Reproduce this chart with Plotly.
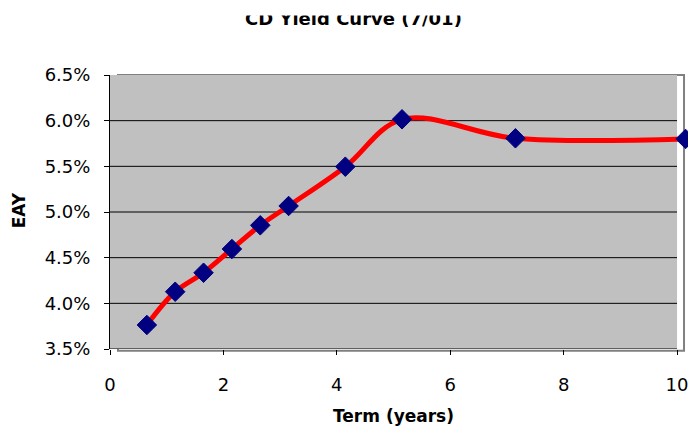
import plotly.graph_objects as go

# CD yield curve: term in years vs. effective annual yield
term_years = [0.65, 1.15, 1.65, 2.15, 2.65, 3.15, 4.15, 5.15, 7.15, 10.15]
eay = [0.03763, 0.04127, 0.04335, 0.04595, 0.04854, 0.05066, 0.05496, 0.06015, 0.05807, 0.05800]

chart_title = "CD Yield Curve (7/01)"
x_title = "Term (years)"
y_title = "EAY"

x_ticks = [0, 2, 4, 6, 8, 10]
y_ticks = [0.035, 0.040, 0.045, 0.050, 0.055, 0.060, 0.065]
grid_vals = [0.040, 0.045, 0.050, 0.055, 0.060]

X_MAX = 10          # end of the shaded plotting region
X_VIEW = 10.158     # visible range runs just past it so the last point shows
Y_MIN, Y_MAX = 0.035, 0.065

FONT = "DejaVu Sans"

fig = go.Figure()
fig.add_trace(go.Scatter(
    x=term_years,
    y=eay,
    mode="lines+markers",
    line=dict(color="#FF0000", width=5, shape="spline", smoothing=1.0),
    marker=dict(symbol="diamond", size=15, color="#000080",
                line=dict(color="#000080", width=1)),
    cliponaxis=False,
    showlegend=False,
))

shapes = [
    # grey plotting region from 0 to 10 years
    dict(type="rect", xref="x", yref="y", x0=0, x1=X_MAX, y0=Y_MIN, y1=Y_MAX,
         fillcolor="#C0C0C0", line=dict(width=0), layer="below"),
]
# horizontal gridlines, stopping at the edge of the shaded region
for g in grid_vals:
    shapes.append(dict(type="line", xref="x", yref="y", x0=0, x1=X_MAX, y0=g, y1=g,
                       line=dict(color="black", width=1), layer="between"))
# frame of the plotting region, slightly offset from the axes
shapes.append(dict(type="rect", xref="x", yref="paper",
                   x0=0.1406, x1=10.123, y0=-0.006, y1=1.0,
                   line=dict(color="#808080", width=2), fillcolor="rgba(0,0,0,0)",
                   layer="between"))
# x axis line up to 10 years
shapes.append(dict(type="line", xref="x", yref="y", x0=0, x1=X_MAX, y0=Y_MIN, y1=Y_MIN,
                   line=dict(color="black", width=1), layer="between"))

fig.update_layout(
    width=688,
    height=434,
    margin=dict(l=110, r=0, t=75, b=85),
    paper_bgcolor="white",
    plot_bgcolor="white",
    font=dict(family=FONT, size=18, color="black"),
    xaxis=dict(
        range=[0, X_VIEW],
        tickvals=x_ticks,
        ticks="outside", ticklen=5, tickcolor="black", tickwidth=1,
        showline=False, showgrid=False, zeroline=False,
        ticklabelstandoff=14,
        ticklabeloverflow="allow",
        tickfont=dict(family=FONT, size=18, color="black"),
    ),
    yaxis=dict(
        range=[Y_MIN, Y_MAX],
        tickvals=y_ticks,
        tickformat=".1%",
        ticks="outside", ticklen=5, tickcolor="black", tickwidth=1,
        showline=True, linecolor="black", linewidth=1,
        showgrid=False, zeroline=False,
        ticklabelstandoff=10,
        tickfont=dict(family=FONT, size=18, color="black"),
    ),
    shapes=shapes,
    annotations=[
        dict(text="<b>" + chart_title + "</b>", xref="paper", yref="paper",
             x=(354 - 110) / 578, y=(349 - 18) / 274, xanchor="center", yanchor="middle",
             showarrow=False, font=dict(family=FONT, size=18, color="black")),
        # white band across the top edge of the page
        dict(text=" ", xref="paper", yref="paper",
             x=(344 - 110) / 578, y=349 / 274, xanchor="center", yanchor="top",
             width=700, height=14, bgcolor="white", borderpad=0,
             showarrow=False, font=dict(size=1)),
        dict(text="<b>" + x_title + "</b>", xref="paper", yref="paper",
             x=(394.5 - 110) / 578, y=(349 - 416) / 274, xanchor="center", yanchor="middle",
             showarrow=False, font=dict(family=FONT, size=17, color="black")),
        dict(text="<b>" + y_title + "</b>", xref="paper", yref="paper",
             x=(19 - 110) / 578, y=(349 - 210) / 274, xanchor="center", yanchor="middle",
             textangle=-90, showarrow=False,
             font=dict(family=FONT, size=17, color="black")),
    ],
)

fig.write_html("out.html")
